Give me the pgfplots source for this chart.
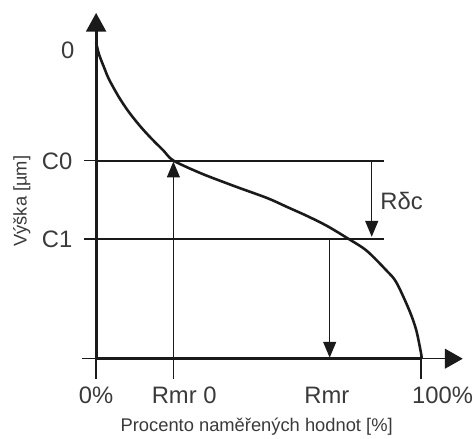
\documentclass[border=0pt]{standalone}
\usepackage{fontspec}
\setmainfont{Liberation Sans}
\usepackage{pgfplots}
\pgfplotsset{compat=1.18}
\usetikzlibrary{arrows.meta}
\definecolor{ink}{HTML}{1A1A1A}
\definecolor{txt}{HTML}{3A3A3A}
\begin{document}
\begin{tikzpicture}
\begin{axis}[
  x=3.28pt, y=1pt,
  xmin=-29.57, xmax=114.6, ymin=-81, ymax=362,
  clip=false,
  hide axis,
]
% frame of the picture (invisible)
\addplot[draw=none] coordinates {(-29.57,-81) (114.6,362)};
% thin x axis with arrow
\addplot[ink, line width=1.4pt, -{Triangle[width=20pt,length=18pt]}] coordinates {(-4.3,0) (112.8,0)};
% thick bottom segment
\addplot[ink, line width=3pt] coordinates {(0,0) (100,0)};
% y axis
\addplot[ink, line width=3pt, -{Triangle[width=20pt,length=19pt]}] coordinates {(0,-1) (0,349)};
% tick marks
\addplot[ink, line width=1.4pt] coordinates {(0,0) (0,-20)};
\addplot[ink, line width=1.4pt] coordinates {(23.78,0) (23.78,-20)};
\addplot[ink, line width=1.4pt] coordinates {(100,0) (100,-20)};
\addplot[ink, line width=1.8pt] coordinates {(-3.66,200) (0,200)};
\addplot[ink, line width=1.8pt] coordinates {(-3.66,121) (0,121)};
% C0, C1 lines
\addplot[ink, line width=2pt] coordinates {(0,200) (88.7,200)};
\addplot[ink, line width=2pt] coordinates {(0,121) (88.7,121)};
% arrows
\addplot[ink, line width=1.4pt, -{Triangle[width=13pt,length=16pt]}] coordinates {(23.78,0) (23.78,199)};
\addplot[ink, line width=1.4pt, -{Triangle[width=13pt,length=16pt]}] coordinates {(71.86,121) (71.86,1)};
\addplot[ink, line width=1.4pt, -{Triangle[width=13pt,length=16pt]}] coordinates {(84.8,200) (84.8,123)};
% curve
\addplot[ink, line width=2.6pt, smooth, tension=0.5] coordinates {
(0,319) (0.91,307) (2.44,294) (3.96,282) (7.01,264) (10.06,249) (13.72,234)
(17.07,222) (20.73,210) (23.78,200) (32.32,187) (42.68,174) (52.74,162)
(58.84,153) (64.94,144) (71.04,134) (77.13,122) (83.23,109) (89.33,89)
(92.38,77) (96.34,49) (98.48,29) (100,5) (100.1,0)};
% labels
\begin{scope}[every node/.style={text=txt, font=\fontsize{24}{24}\selectfont, inner sep=0pt}]
\node at (axis cs:0,-37) {0\%};
\node at (axis cs:27.1,-37) {Rmr 0};
\node at (axis cs:71.0,-37) {Rmr};
\node at (axis cs:106.6,-37) {100\%};
\node at (axis cs:-8.7,311) {0};
\node at (axis cs:-12.0,199.5) {C0};
\node at (axis cs:-12.0,120) {C1};
\node at (axis cs:94.0,159.5) {Rδc};
\end{scope}
\node[text=txt, font=\fontsize{18.5}{18.5}\selectfont, inner sep=0pt] at (axis cs:49.4,-69) {Procento naměřených hodnot [\%]};
\node[text=txt, font=\fontsize{18.5}{18.5}\selectfont, inner sep=0pt, rotate=90] at (axis cs:-22.9,159) {Výška [µm]};
\end{axis}
\end{tikzpicture}
\end{document}
